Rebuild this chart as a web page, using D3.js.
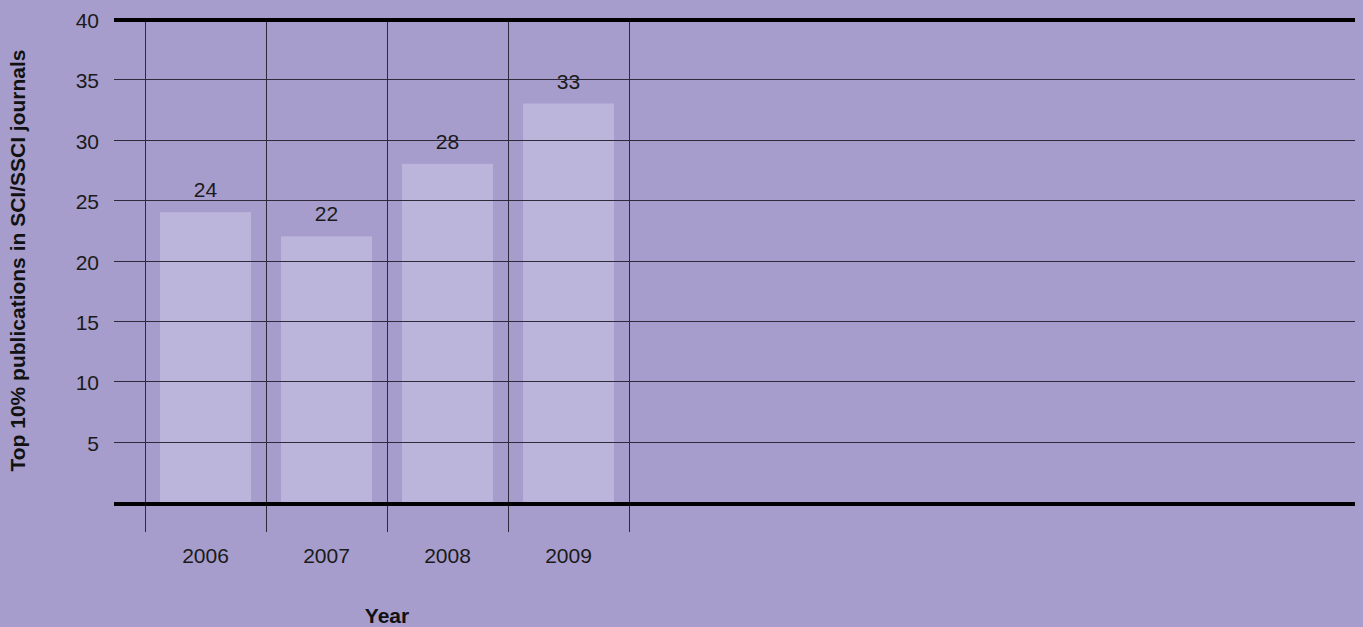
<!DOCTYPE html>
<html>
<head>
<meta charset="utf-8">
<script src="https://cdn.jsdelivr.net/npm/d3@7"></script>
<style>
  html, body { margin: 0; padding: 0; background: #a69dcc; }
  svg { display: block; font-family: "Liberation Sans", Arial, Helvetica, sans-serif; }
</style>
</head>
<body>
<svg id="chart" width="1363" height="627"></svg>
<script>
// Data
const years = ["2006", "2007", "2008", "2009"];
const publications = [24, 22, 28, 33];
const yTicks = [5, 10, 15, 20, 25, 30, 35, 40];
const yDomain = [0, 40];
const yTitle = "Top 10% publications in SCI/SSCI journals";
const xTitle = "Year";

// Layout
const W = 1363, H = 627;
const plot = { left: 114, right: 1355, top: 19, bottom: 502 };
const bandStart = 145, bandStep = 121, barInset = 15;
const pad = (2 * barInset) / bandStep;

const svg = d3.select("#chart");
svg.append("rect").attr("width", W).attr("height", H).attr("fill", "#a69dcc");

const x = d3.scaleBand()
  .domain(years)
  .range([bandStart, bandStart + bandStep * years.length])
  .paddingInner(pad)
  .paddingOuter(pad / 2);

const y = d3.scaleLinear().domain(yDomain).range([plot.bottom, plot.top]);

const rows = years.map((yr, i) => ({ year: yr, value: publications[i] }));

// Bars
svg.append("g").selectAll("rect")
  .data(rows)
  .join("rect")
  .attr("x", d => x(d.year))
  .attr("y", d => y(d.value))
  .attr("width", x.bandwidth())
  .attr("height", d => y(0) - y(d.value))
  .attr("fill", "#bcb5db");

// Horizontal gridlines
svg.append("g").selectAll("line")
  .data(yTicks.filter(t => t !== yDomain[1]))
  .join("line")
  .attr("x1", plot.left).attr("x2", plot.right)
  .attr("y1", d => Math.round(y(d)) + 0.5).attr("y2", d => Math.round(y(d)) + 0.5)
  .attr("stroke", "#2e2a3c").attr("stroke-width", 1);

// Vertical category separators
const step = x.step();
const edges = years.map(d => x(d) - x.paddingInner() * step / 2);
edges.push(edges[edges.length - 1] + step);
svg.append("g").selectAll("line")
  .data(edges)
  .join("line")
  .attr("x1", d => Math.round(d) + 0.5).attr("x2", d => Math.round(d) + 0.5)
  .attr("y1", plot.top).attr("y2", plot.bottom + 30)
  .attr("stroke", "#2e2a3c").attr("stroke-width", 1);

// Heavy frame lines at top and bottom of the value range
svg.append("line")
  .attr("x1", plot.left).attr("x2", plot.right)
  .attr("y1", y(yDomain[1]) + 1).attr("y2", y(yDomain[1]) + 1)
  .attr("stroke", "#000").attr("stroke-width", 4);
svg.append("line")
  .attr("x1", plot.left).attr("x2", plot.right)
  .attr("y1", y(0) + 2).attr("y2", y(0) + 2)
  .attr("stroke", "#000").attr("stroke-width", 4);

// Y tick labels
svg.append("g").selectAll("text")
  .data(yTicks)
  .join("text")
  .attr("x", 99)
  .attr("y", d => y(d) + 9)
  .attr("text-anchor", "end")
  .attr("font-size", 21)
  .attr("fill", "#1a1a1a")
  .text(d => d);

// Value labels
svg.append("g").selectAll("text")
  .data(rows)
  .join("text")
  .attr("x", d => x(d.year) + x.bandwidth() / 2)
  .attr("y", d => y(d.value) - 15)
  .attr("text-anchor", "middle")
  .attr("font-size", 21)
  .attr("fill", "#1a1a1a")
  .text(d => d.value);

// X tick labels
svg.append("g").selectAll("text")
  .data(years)
  .join("text")
  .attr("x", d => x(d) + x.bandwidth() / 2)
  .attr("y", 563)
  .attr("text-anchor", "middle")
  .attr("font-size", 21)
  .attr("fill", "#1a1a1a")
  .text(d => d);

// Axis titles
svg.append("text")
  .attr("x", (edges[0] + edges[edges.length - 1]) / 2)
  .attr("y", 623)
  .attr("text-anchor", "middle")
  .attr("font-size", 21)
  .attr("font-weight", "bold")
  .attr("fill", "#111")
  .text(xTitle);

svg.append("text")
  .attr("transform", `translate(25,${(plot.top + plot.bottom) / 2}) rotate(-90)`)
  .attr("text-anchor", "middle")
  .attr("font-size", 21)
  .attr("font-weight", "bold")
  .attr("fill", "#111")
  .text(yTitle);
</script>
</body>
</html>
